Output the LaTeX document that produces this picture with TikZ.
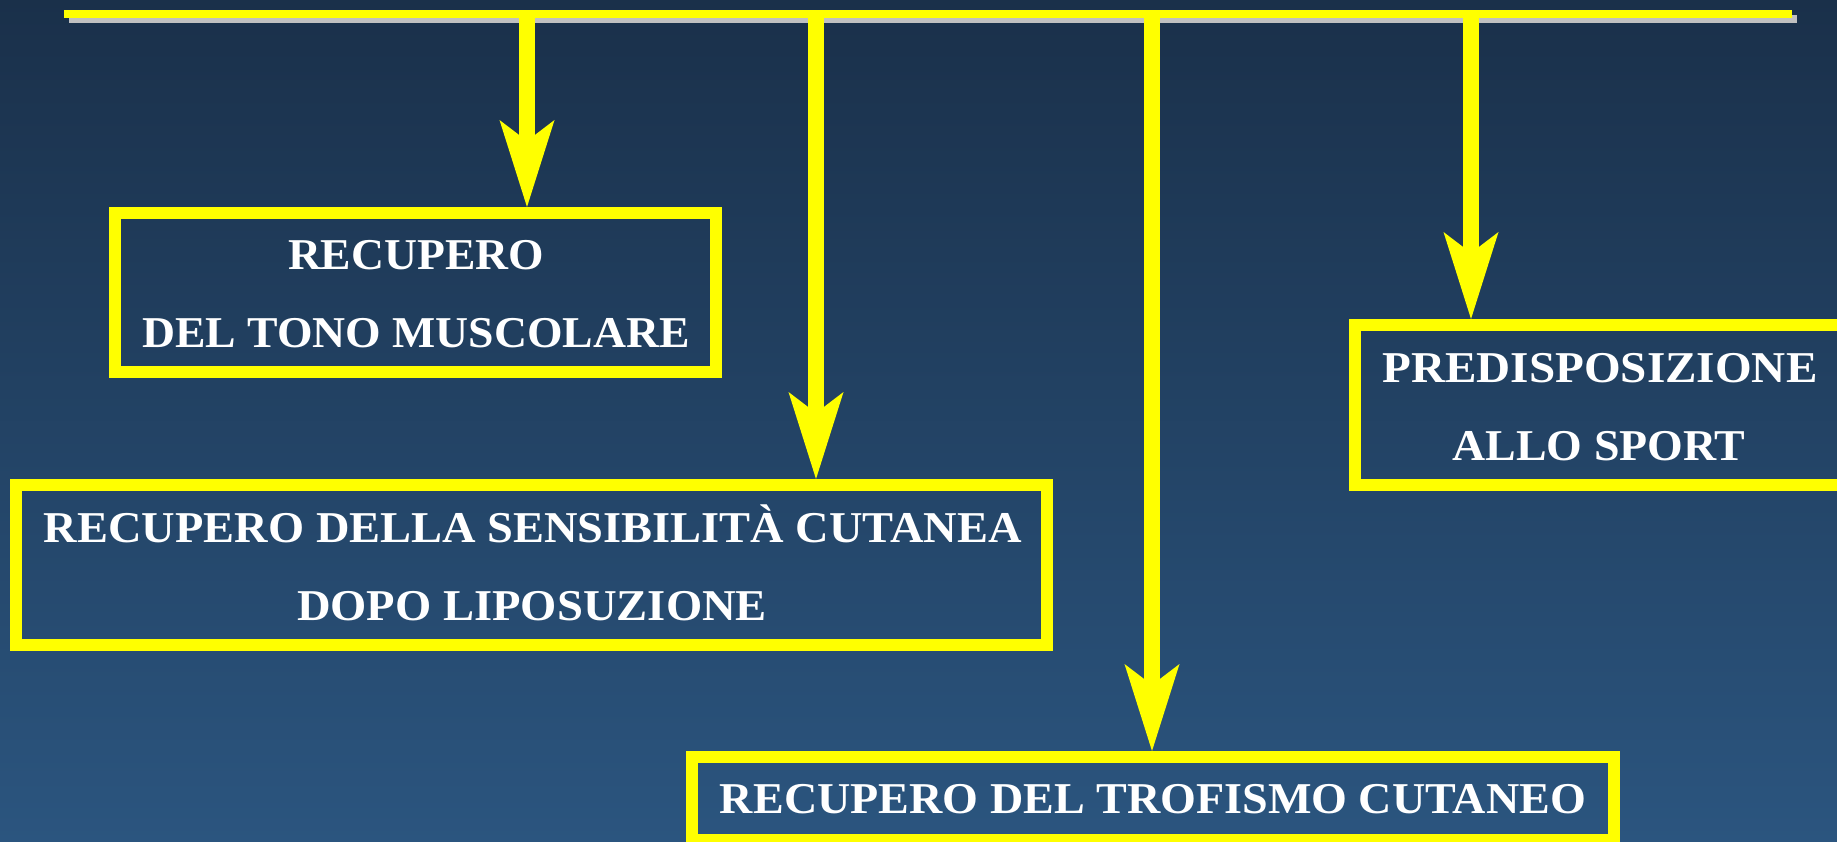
\documentclass[tikz,border=0pt]{standalone}
\usepackage{fontspec}
\setmainfont{Liberation Serif}
\usetikzlibrary{arrows.meta}
\definecolor{bgtop}{RGB}{26,48,74}
\definecolor{bgbot}{RGB}{43,85,127}
\definecolor{ylw}{RGB}{255,255,0}
\definecolor{shd}{RGB}{192,192,192}
\newsavebox\fitbox
\newcommand\fitw[2]{\sbox\fitbox{#2}\pgfmathsetmacro\fitsc{#1/\the\wd\fitbox}\scalebox{\fitsc}[1]{\usebox\fitbox}}
\tikzset{
  box/.style={draw=ylw, line width=12pt, inner sep=0pt},
  lbl/.style={anchor=base, inner sep=0pt, text=white, font=\fontsize{44}{44}\selectfont\bfseries},
  arr/.style={draw=ylw, line width=16pt, -{Stealth[length=87pt,width=55pt,inset=21pt,line width=0pt]}}
}
\begin{document}
\begin{tikzpicture}[x=1pt,y=-1pt]
\useasboundingbox (0,0) rectangle (1837,842);
\clip (0,0) rectangle (1837,842);
\shade[top color=bgtop, bottom color=bgbot] (0,0) rectangle (1837,842);
% top bar with shadow
\fill[shd] (69,15) rectangle (1797,23);
\fill[ylw] (64,10) rectangle (1792,18);
\coordinate (s1) at (527,18);
\coordinate (s2) at (816,18);
\coordinate (s3) at (1152,18);
\coordinate (s4) at (1471,18);
% boxes
\node[box, minimum width=601pt, minimum height=159pt] (b1) at (415.5,292.5) {};
\node[box, minimum width=1031pt, minimum height=160pt] (b2) at (531.5,565) {};
\node[box, minimum width=922pt, minimum height=83pt] (b3) at (1153,798.5) {};
\node[box, minimum width=490pt, minimum height=160pt] (b4) at (1600,405) {};
% labels
\node[lbl] (t1a) at (416,270) {\fitw{256}{RECUPERO}};
\node[lbl] (t1b) at (416,348) {\fitw{548}{DEL TONO MUSCOLARE}};
\node[lbl] (t2a) at (533,542) {\fitw{978}{RECUPERO DELLA SENSIBILITÀ CUTANEA}};
\node[lbl] (t2b) at (532,620) {\fitw{470}{DOPO LIPOSUZIONE}};
\node[lbl] (t3) at (1153,813) {\fitw{866}{RECUPERO DEL TROFISMO CUTANEO}};
\node[lbl] (t4a) at (1600,382) {\fitw{435}{PREDISPOSIZIONE}};
\node[lbl] (t4b) at (1599,460) {\fitw{293}{ALLO SPORT}};
% arrows
\draw[arr] (s1) -- (s1 |- b1.north);
\draw[arr] (s2) -- (s2 |- b2.north);
\draw[arr] (s3) -- (s3 |- b3.north);
\draw[arr] (s4) -- (s4 |- b4.north);
\end{tikzpicture}
\end{document}
